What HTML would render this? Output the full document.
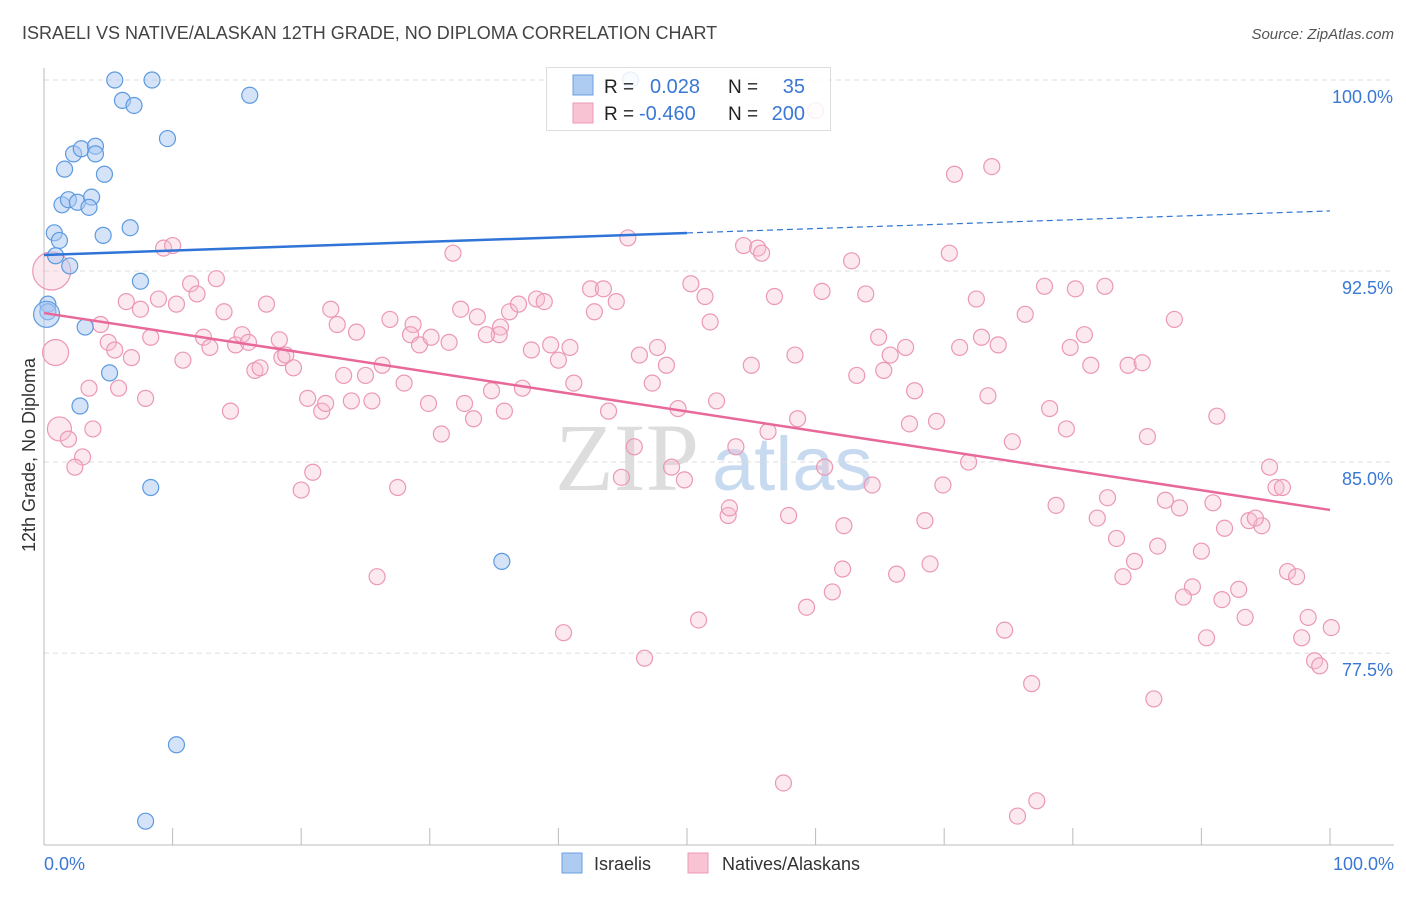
<!DOCTYPE html>
<html><head><meta charset="utf-8">
<style>
body{margin:0;background:#fff;font-family:"Liberation Sans",sans-serif;}
svg text{font-family:"Liberation Sans",sans-serif;}
</style></head>
<body>
<svg id="chart" width="1406" height="892" viewBox="0 0 1406 892" xmlns="http://www.w3.org/2000/svg">
<text x="22" y="39" font-size="18" fill="#444">ISRAELI VS NATIVE/ALASKAN 12TH GRADE, NO DIPLOMA CORRELATION CHART</text>
<text x="1394" y="39" font-size="15" fill="#555" font-style="italic" text-anchor="end">Source: ZipAtlas.com</text>
<g>
<text x="555" y="490" font-size="96" fill="#ddd" font-family="Liberation Serif" style="font-family:'Liberation Serif',serif">ZIP</text>
<text x="712" y="490" font-size="76" fill="#c8daf0">atlas</text>
</g>
<g id="grid"></g>
<g id="yticks"></g>
<g id="xaxis"></g>
<g id="pink"></g>
<g id="blue"></g>
<g id="trends"></g>
<text transform="translate(35,455) rotate(-90)" font-size="18" fill="#333" text-anchor="middle">12th Grade, No Diploma</text>
<text x="44" y="870" font-size="18" fill="#3a78d4">0.0%</text>
<text x="1394" y="870" font-size="18" fill="#3a78d4" text-anchor="end">100.0%</text>
<g>
<rect x="546.5" y="67.5" width="284" height="63" fill="#fff" fill-opacity="0.85" stroke="#ddd"/>
<rect x="573" y="75" width="20" height="20" fill="#aecbf2" stroke="#6b9fe0"/>
<rect x="573" y="103" width="20" height="20" fill="#f8c4d4" stroke="#ec9ab5"/>
<text x="604" y="93" font-size="19" fill="#222">R =</text>
<text x="650" y="93" font-size="20" fill="#3a78d4">0.028</text>
<text x="728" y="93" font-size="19" fill="#222">N =</text>
<text x="805" y="93" font-size="20" fill="#3a78d4" text-anchor="end">35</text>
<text x="604" y="120" font-size="19" fill="#222">R =</text>
<text x="639" y="120" font-size="20" fill="#3a78d4">-0.460</text>
<text x="728" y="120" font-size="19" fill="#222">N =</text>
<text x="805" y="120" font-size="20" fill="#3a78d4" text-anchor="end">200</text>
</g>
<g>
<rect x="562" y="853" width="20" height="20" fill="#aecbf2" stroke="#6b9fe0"/>
<text x="594" y="870" font-size="18" fill="#333">Israelis</text>
<rect x="688" y="853" width="20" height="20" fill="#f8c4d4" stroke="#ec9ab5"/>
<text x="722" y="870" font-size="18" fill="#333">Natives/Alaskans</text>
</g>
</svg>
<script>
const yTicks=[100,92.5,85,77.5];
const yTickLabels=["100.0%","92.5%","85.0%","77.5%"];
const xTicks=[0,10,20,30,40,50,60,70,80,90,100];
const blueX=[5.5,8.4,6.1,7.0,16.0,9.6,2.3,2.9,4.0,4.0,1.6,4.7,1.4,1.9,2.6,3.7,3.5,0.8,1.2,4.6,6.7,0.9,2.0,7.5,0.3,0.3,3.2,5.1,2.8,8.3,35.6,10.3,7.9,45.6,0.2];
const blueY=[100.0,100.0,99.2,99.0,99.4,97.7,97.1,97.3,97.4,97.1,96.5,96.3,95.1,95.3,95.2,95.4,95.0,94.0,93.7,93.9,94.2,93.1,92.7,92.1,91.2,90.9,90.3,88.5,87.2,84.0,81.1,73.9,70.9,100.0,90.8];
const pinkX=[60.0,73.7,70.8,45.4,54.4,55.5,55.8,70.4,31.8,9.3,10.0,0.6,13.4,11.4,11.9,6.4,8.9,10.3,17.3,14.0,7.5,22.3,22.8,26.9,28.7,32.4,33.7,35.5,36.2,36.9,38.3,38.9,42.5,43.5,44.5,42.8,50.3,51.4,51.8,56.8,60.5,62.8,63.9,72.5,77.8,80.2,82.5,87.9,76.3,64.9,65.8,67.0,72.9,74.2,71.2,80.9,79.8,81.4,84.3,85.4,4.4,5.0,5.5,8.3,6.8,12.4,12.9,14.9,15.4,15.9,18.3,18.5,18.8,16.4,16.8,19.4,24.3,26.3,28.5,29.2,30.1,31.5,35.4,34.4,37.9,39.4,40.0,40.9,46.3,47.7,48.4,47.3,41.2,10.8,3.5,5.8,7.9,14.5,20.5,21.6,21.9,23.3,23.9,25.0,25.5,28.0,29.9,32.7,33.4,34.8,35.8,37.2,30.9,43.9,45.9,49.3,52.3,55.0,58.4,63.2,65.3,67.7,67.3,69.4,73.4,78.2,79.5,91.2,85.8,75.3,71.9,56.3,58.6,53.8,1.2,1.9,3.0,3.8,2.4,20.9,20.0,27.5,44.9,48.8,49.8,60.7,64.4,69.9,78.7,82.7,87.2,88.3,90.9,95.3,95.8,96.3,91.8,93.7,94.7,94.2,81.9,83.4,84.8,86.6,90.0,83.9,89.3,91.6,92.9,88.6,93.4,96.7,97.4,98.3,97.8,100.1,98.8,99.2,90.4,76.8,74.7,86.3,68.5,62.2,57.9,53.2,53.3,62.1,61.3,59.3,66.3,68.9,50.9,40.4,46.7,25.9,57.5,77.2,75.7,0.9];
const pinkY=[98.8,96.6,96.3,93.8,93.5,93.4,93.2,93.2,93.2,93.4,93.5,92.5,92.2,92.0,91.6,91.3,91.4,91.2,91.2,90.9,91.0,91.0,90.4,90.6,90.4,91.0,90.7,90.3,90.9,91.2,91.4,91.3,91.8,91.8,91.3,90.9,92.0,91.5,90.5,91.5,91.7,92.9,91.6,91.4,91.9,91.8,91.9,90.6,90.8,89.9,89.2,89.5,89.9,89.6,89.5,90.0,89.5,88.8,88.8,88.9,90.4,89.7,89.4,89.9,89.1,89.9,89.5,89.6,90.0,89.7,89.8,89.1,89.2,88.6,88.7,88.7,90.1,88.8,90.0,89.6,89.9,89.7,90.0,90.0,89.4,89.6,89.0,89.5,89.2,89.5,88.8,88.1,88.1,89.0,87.9,87.9,87.5,87.0,87.5,87.0,87.3,88.4,87.4,88.4,87.4,88.1,87.3,87.3,86.7,87.8,87.0,87.9,86.1,87.0,85.6,87.1,87.4,88.8,89.2,88.4,88.6,87.8,86.5,86.6,87.6,87.1,86.3,86.8,86.0,85.8,85.0,86.2,86.7,85.6,86.3,85.9,85.2,86.3,84.8,84.6,83.9,84.0,84.4,84.8,84.3,84.8,84.1,84.1,83.3,83.6,83.5,83.2,83.4,84.8,84.0,84.0,82.4,82.7,82.5,82.8,82.8,82.0,81.1,81.7,81.5,80.5,80.1,79.6,80.0,79.7,78.9,80.7,80.5,78.9,78.1,78.5,77.2,77.0,78.1,76.3,78.4,75.7,82.7,82.5,82.9,82.9,83.2,80.8,79.9,79.3,80.6,81.0,78.8,78.3,77.3,80.5,72.4,71.7,71.1,89.3];
const blueTrend=[93.13,94.86];
const pinkTrend=[90.85,83.12];
const bigBlue={34:13};
const bigPink={11:19,134:12,199:13};

const NS="http://www.w3.org/2000/svg";
const X0=44,X1=1330,YTOP=80,PXPER=25.47;
function sx(v){return X0+(X1-X0)*v/100;}
function sy(v){return YTOP+(100-v)*PXPER;}
function mk(t,a,p){const e=document.createElementNS(NS,t);for(const k in a)e.setAttribute(k,a[k]);p.appendChild(e);return e;}

const grid=document.getElementById('grid');
const yt=document.getElementById('yticks');
yTicks.forEach((v,i)=>{
  const l=mk('line',{x1:X0,x2:1394,y1:sy(v),y2:sy(v),stroke:'#ddd','stroke-dasharray':'5,4'},grid);
  
  
  const t=mk('text',{x:1393,y:sy(v)+23,'font-size':18,fill:'#3a78d4','text-anchor':'end'},yt);
  t.textContent=yTickLabels[i];
  
  
});
const xa=document.getElementById('xaxis');
const ax=mk('line',{x1:X0,x2:1394,y1:845,y2:845,stroke:'#bbb'},xa);


const ay=mk('line',{x1:X0,x2:X0,y1:68,y2:845,stroke:'#bbb'},xa);


xTicks.forEach(v=>{
  const t=mk('line',{x1:sx(v),x2:sx(v),y1:828,y2:845,stroke:'#bbb'},xa);
  
  
});
const pg=document.getElementById('pink');
pinkX.forEach((v,i)=>{
  const c=mk('circle',{cx:sx(v),cy:sy(pinkY[i]),r:bigPink[i]||8,fill:'#f7bcd0','fill-opacity':0.35,stroke:'#eb98b5','stroke-width':1.2},pg);
  
  
});
const bg=document.getElementById('blue');
blueX.forEach((v,i)=>{
  const c=mk('circle',{cx:sx(v),cy:sy(blueY[i]),r:bigBlue[i]||8,fill:'#a9c8f2','fill-opacity':0.5,stroke:'#5d9ae0','stroke-width':1.2},bg);
  
  
});
const tr=document.getElementById('trends');
const bMid=blueTrend[0]+(blueTrend[1]-blueTrend[0])*0.5;
const b1=mk('line',{x1:sx(0),y1:sy(blueTrend[0]),x2:sx(50),y2:sy(bMid),stroke:'#2f74d6','stroke-width':2.5},tr);


const b2=mk('line',{x1:sx(50),y1:sy(bMid),x2:sx(100),y2:sy(blueTrend[1]),stroke:'#2f74d6','stroke-width':1.2,'stroke-dasharray':'6,4'},tr);


const p1=mk('line',{x1:sx(0),y1:sy(pinkTrend[0]),x2:sx(100),y2:sy(pinkTrend[1]),stroke:'#e8689a','stroke-width':2.5},tr);


</script>
</body></html>
